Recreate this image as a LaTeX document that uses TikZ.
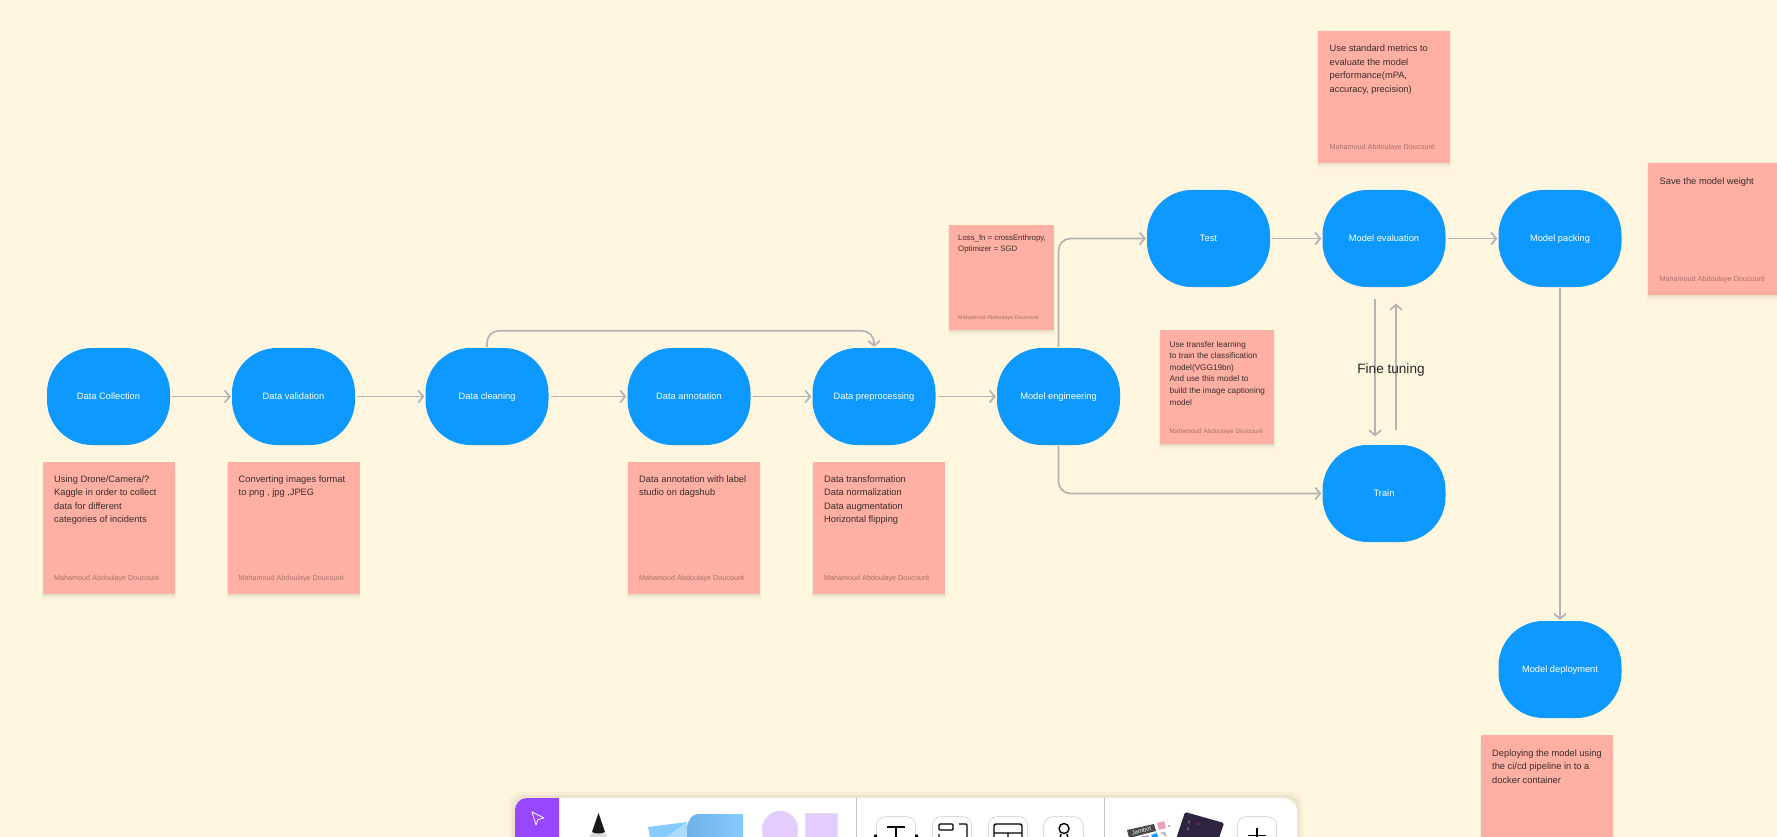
\documentclass[tikz,border=0pt]{standalone}
\usepackage{fontspec}
\setmainfont{Liberation Sans}
\usetikzlibrary{arrows.meta,shadows}
\definecolor{bgc}{HTML}{FFF6DF}
\definecolor{blu}{HTML}{0D99FF}
\definecolor{sal}{HTML}{FFAFA3}
\definecolor{lin}{HTML}{B3B3B3}
\definecolor{purp}{HTML}{9747FF}
\definecolor{lil}{HTML}{E4CCFF}
\definecolor{ink}{HTML}{3A2E2C}
\definecolor{authc}{HTML}{A8736C}
\definecolor{darkcard}{HTML}{2E2440}
\definecolor{sheetA}{HTML}{6DB3E8}
\definecolor{sheetB}{HTML}{85CBFF}
\definecolor{sheetC}{HTML}{ABDCFF}
\tikzset{
 softshadow/.style={
   general shadow={fill=black,opacity=.015,shadow yshift=-5pt,shadow scale=1.015},
   general shadow={fill=black,opacity=.022,shadow yshift=-3.5pt,shadow scale=1.01},
   general shadow={fill=black,opacity=.03,shadow yshift=-2pt,shadow scale=1.005},
   general shadow={fill=black,opacity=.035,shadow yshift=-1pt}},
 proc/.style={fill=blu,rounded corners=45pt,minimum width=123pt,minimum height=97pt,inner sep=0pt,text=white,text height=7pt,text depth=2pt,font=\fontsize{9.3}{12}\selectfont},
 sticky/.style={fill=sal,minimum width=132pt,minimum height=132pt,inner sep=0pt,softshadow},
 smallsticky/.style={sticky,minimum width=105pt,minimum height=105pt},
 midsticky/.style={sticky,minimum width=114pt,minimum height=114pt},
 body/.style={anchor=north west,inner sep=0pt,align=left,text=ink,font=\fontsize{9.3}{13.4}\selectfont},
 smallbody/.style={body,font=\fontsize{7.8}{10.4}\selectfont},
 midbody/.style={body,font=\fontsize{8.2}{11.6}\selectfont},
 auth/.style={anchor=west,inner sep=0pt,text=authc,font=\fontsize{7.2}{9}\selectfont},
 smallauth/.style={auth,font=\fontsize{5.5}{8}\selectfont},
 midauth/.style={auth,font=\fontsize{6.4}{8}\selectfont},
 conn/.style={draw=lin,line width=1.7pt,-{Straight Barb[length=5pt,width=12pt,line width=1.7pt]},rounded corners=12pt},
 tool/.style={draw=black!20,fill=white,rounded corners=9pt,line width=.6pt,minimum width=39.5pt,minimum height=39.5pt,inner sep=0pt},
 glyph/.style={draw=black,line width=1.4pt},
}
\begin{document}
\begin{tikzpicture}[x=1pt,y=-1pt]
\useasboundingbox (0,0) rectangle (1777,837);
\clip (0,0) rectangle (1777,837);
\fill[bgc] (0,0) rectangle (1777,837);
% process nodes
\node[proc] (dc) at (108.5,396.5) {Data Collection};
\node[proc] (dv) at (293.5,396.5) {Data validation};
\node[proc] (cl) at (487,396.5) {Data cleaning};
\node[proc] (an) at (689,396.5) {Data annotation};
\node[proc] (pp) at (874,396.5) {Data preprocessing};
\node[proc] (me) at (1058.5,396.5) {Model engineering};
\node[proc] (te) at (1208.5,238.5) {Test};
\node[proc] (ev) at (1384,238.5) {Model evaluation};
\node[proc] (pk) at (1560,238.5) {Model packing};
\node[proc] (tr) at (1384,493.5) {Train};
\node[proc] (de) at (1560,669.5) {Model deployment};
% stickies
\node[sticky] (s1) at (109,528) {};
\node[body] (b1) at (54,475.5) {Using Drone/Camera/?\\Kaggle in order to collect\\data for different\\categories of incidents};
\node[auth] (a1) at (54,579) {Mahamoud Abdoulaye Doucouré};
\node[sticky] (s2) at (293.5,528) {};
\node[body] (b2) at (238.5,475.5) {Converting images format\\to png , jpg ,JPEG};
\node[auth] (a2) at (238.5,579) {Mahamoud Abdoulaye Doucouré};
\node[sticky] (s3) at (694,528) {};
\node[body] (b3) at (639,475.5) {Data annotation with label\\studio on dagshub};
\node[auth] (a3) at (639,579) {Mahamoud Abdoulaye Doucouré};
\node[sticky] (s4) at (878.5,528) {};
\node[body] (b4) at (824,475.5) {Data transformation\\Data normalization\\Data augmentation\\Horizontal flipping};
\node[auth] (a4) at (824,579) {Mahamoud Abdoulaye Doucouré};
\node[smallsticky] (s5) at (1001.5,277.5) {};
\node[smallbody] (b5) at (958,235) {Loss\_fn = crossEnthropy,\\Optimizer = SGD};
\node[smallauth] (a5) at (958,318) {Mahamoud Abdoulaye Doucouré};
\node[midsticky] (s6) at (1217,387) {};
\node[midbody] (b6) at (1169.5,341) {Use transfer learning\\to train the classification\\model(VGG19bn)\\And use this model to\\build the image captioning\\model};
\node[midauth] (a6) at (1169.5,431.5) {Mahamoud Abdoulaye Doucouré};
\node[sticky] (s7) at (1384,97) {};
\node[body] (b7) at (1329.5,45) {Use standard metrics to\\evaluate the model\\performance(mPA,\\accuracy, precision)};
\node[auth] (a7) at (1329.5,148) {Mahamoud Abdoulaye Doucouré};
\node[sticky] (s8) at (1714,229) {};
\node[body] (b8) at (1659.5,177.5) {Save the model weight};
\node[auth] (a8) at (1659.5,280) {Mahamoud Abdoulaye Doucouré};
\node[sticky] (s9) at (1547,801) {};
\node[body] (b9) at (1492,749.5) {Deploying the model using\\the ci/cd pipeline in to a\\docker container};
% connectors
\draw[conn] ([xshift=2pt]dc.east) -- ([xshift=-1pt]dv.west);
\draw[conn] ([xshift=2pt]dv.east) -- ([xshift=-1pt]cl.west);
\draw[conn] ([xshift=2pt]cl.east) -- ([xshift=-1pt]an.west);
\draw[conn] ([xshift=2pt]an.east) -- ([xshift=-1pt]pp.west);
\draw[conn] ([xshift=2pt]pp.east) -- ([xshift=-1pt]me.west);
\draw[conn] ([xshift=2pt]te.east) -- ([xshift=-1pt]ev.west);
\draw[conn] ([xshift=2pt]ev.east) -- ([xshift=-1pt]pk.west);
\draw[conn] ([yshift=1pt]cl.north) |- ([yshift=17pt]pp.north) -- ([yshift=1pt]pp.north);
\draw[conn] ([yshift=1pt]me.north) |- ([xshift=-1pt]te.west);
\draw[conn] ([yshift=-1pt]me.south) |- ([xshift=-1pt]tr.west);
\draw[conn] ([yshift=-1pt]pk.south) -- ([yshift=1pt]de.north);
\draw[conn] ([xshift=-9pt,yshift=-11.5pt]ev.south) -- ([xshift=-9pt,yshift=8.5pt]tr.north);
\draw[conn] ([xshift=12pt,yshift=14.5pt]tr.north) -- ([xshift=12pt,yshift=-16.5pt]ev.south);
\node[inner sep=0pt,text=black!85,font=\fontsize{13.6}{16}\selectfont] (ft) at (1391,369.5) {Fine tuning};
% toolbar
\fill[black,opacity=.03] (509,837) -- (509,804) arc (180:270:12) -- (1291,792) arc (270:360:12) -- (1303,837) -- cycle;
\fill[black,opacity=.04] (512,837) -- (512,807) arc (180:270:12) -- (1288,795) arc (270:360:12) -- (1300,837) -- cycle;
\node[fill=white,rounded corners=14pt,minimum width=782pt,minimum height=80pt,anchor=north west,inner sep=0pt] (bar) at (515,798) {};
\fill[purp] (515,837) -- (515,810) arc (180:270:12) -- (559,798) -- (559,837) -- cycle;
\draw[white,line width=.8pt,line join=round] (532,812) -- (544,818) -- (538,819.5) -- (536,825) -- cycle;
\draw[black!22,line width=.7pt] (856,798) -- (856,837) (1104.5,798) -- (1104.5,837);
% pen
\fill[black!14,rounded corners=2pt] (589,838) -- (592,832) -- (605,832) -- (608,838) -- cycle;
\fill[black!90] (598.5,813) -- (592,832) .. controls (596,834) and (601,834) .. (605,832) -- cycle;
% sticky stack
\fill[sheetB] (648,827) -- (687,822) -- (687,837) -- (650,837) -- cycle;
\fill[sheetC] (687,822) -- (666,837) -- (687,837) -- cycle;
\shade[left color=sheetA,right color=sheetB] (687,837) -- (687,828) .. controls (688,820) and (692,814) .. (698,814) -- (743,814) -- (743,837) -- cycle;
% shapes
\fill[lil,draw=black!12,line width=.5pt] (780,830) ellipse (18pt and 19pt);
\fill[lil,draw=black!12,line width=.5pt] (805,813) rectangle (837,850);
% tool buttons
\node[tool] (t1) at (896,836.5) {};
\node[tool] (t2) at (952,836.5) {};
\node[tool] (t3) at (1008,836.5) {};
\node[tool] (t4) at (1063.5,836.5) {};
\node[tool] (t5) at (1257,836.5) {};
\draw[glyph] (887,827) -- (905,827) (896,827) -- (896,845);
\fill[black] (874,834.5) rectangle (877,837) (915,834.5) rectangle (918,837);
\draw[glyph,rounded corners=1pt] (939,824) rectangle (953,830);
\draw[glyph,rounded corners=1pt] (959,824) -- (967,824) -- (967,845) (939,834) -- (939,845);
\draw[glyph,rounded corners=2pt] (994,845) -- (994,824) -- (1022,824) -- (1022,845) (994,833) -- (1022,833) (1008,833) -- (1008,845);
\draw[glyph] (1064,828.5) circle (5pt);
\draw[glyph] (1061,834) -- (1059,842) (1067,834) -- (1069,842);
\draw[glyph] (1257,828) -- (1257,845) (1248,835.5) -- (1266,835.5);
% template cards
\fill[white,draw=black!8,line width=.4pt] (1123,828) -- (1167,819) -- (1176,845) -- (1132,855) -- cycle;
\fill[black!72] (1127,830) -- (1154,824) -- (1156,831) -- (1129,838) -- cycle;
\node[inner sep=0pt,text=white,font=\fontsize{6}{7}\selectfont,rotate=14] (jam) at (1141.5,830.7) {Jambot};
\fill[magenta!40!purple!40] (1157,823) -- (1164,821) -- (1166,828) -- (1159,830) -- cycle;
\fill[black!35] (1169,826) circle (1.2pt);
\fill[black!25] (1160,833) -- (1165,831.5) -- (1167,837) -- cycle;
\fill[blu] (1151,835) -- (1157,833) -- (1158,837) -- (1152,837) -- cycle;
\fill[purple!45!blue!40] (1139,837) -- (1148,835) -- (1149,837) -- cycle;
\fill[darkcard,rounded corners=1.5pt] (1185,812) -- (1224,823) -- (1211,862) -- (1172,851) -- cycle;
\node[inner sep=0pt,text=white!70,font=\fontsize{3.6}{4}\selectfont] (n1) at (1189,822) {1};
\node[inner sep=0pt,text=red!80,font=\fontsize{3.6}{4}\selectfont,rotate=-18] (n2) at (1198,824.5) {</>};
\node[inner sep=0pt,text=white!70,font=\fontsize{3.6}{4}\selectfont] (n3) at (1188,829.5) {2};
\end{tikzpicture}
\end{document}
